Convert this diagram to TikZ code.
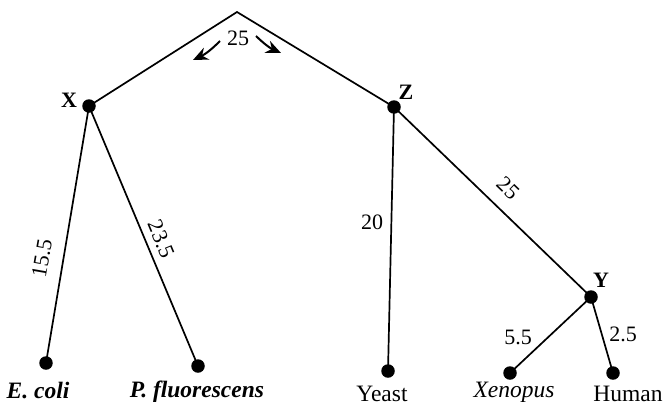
\documentclass[tikz,border=0pt]{standalone}
\usepackage{fontspec}
\setmainfont{Liberation Serif}
\usetikzlibrary{arrows.meta}
\tikzset{
  dot/.style={circle, fill=black, inner sep=0pt, minimum size=13.5pt},
  branch/.style={line width=1.7pt, black},
  nodename/.style={font=\fontsize{22}{24}\selectfont\bfseries, inner sep=0pt},
  taxon/.style={font=\fontsize{23.5}{26}\selectfont, inner sep=0pt},
  blen/.style={font=\fontsize{22}{24}\selectfont, inner sep=0pt},
  dirarrow/.style={line width=2pt, -{Stealth[length=15pt,width=13pt,inset=5pt]}}
}
\begin{document}
\begin{tikzpicture}[x=1pt,y=-1pt]
\useasboundingbox (0,0) rectangle (666,407);
% internal and leaf points
\coordinate (root) at (237,12);
\node[dot] (X) at (89,106) {};
\node[dot] (Z) at (394,107) {};
\node[dot] (Y) at (591,297) {};
\node[dot] (ecoli) at (46,363) {};
\node[dot] (pfluo) at (198,366) {};
\node[dot] (yeast) at (388,371) {};
\node[dot] (xeno) at (510,373) {};
\node[dot] (human) at (613,373) {};
% branches
\draw[branch] (X.center) -- (root) -- (Z.center);
\draw[branch] (X.center) -- (ecoli.center);
\draw[branch] (X.center) -- (pfluo.center);
\draw[branch] (Z.center) -- (yeast.center);
\draw[branch] (Z.center) -- (Y.center);
\draw[branch] (Y.center) -- (xeno.center);
\draw[branch] (Y.center) -- (human.center);
% node names
\node[nodename] (lX) at (69,100) {X};
\node[nodename] (lZ) at (406,92) {Z};
\node[nodename] (lY) at (601,280) {Y};
% taxa
\node[taxon] (tE) at (38,391) {\textbf{\textit{E. coli}}};
\node[taxon] (tP) at (197,392) {\textbf{\textit{P. fluorescens}}};
\node[taxon] (tY) at (382,394) {Yeast};
\node[taxon] (tX) at (514,392) {\textit{Xenopus}};
\node[taxon] (tH) at (628,394) {Human};
% branch lengths
\node[blen] (l25top) at (238,38) {25};
\coordinate (la1) at (220,41);
\coordinate (la2) at (193,60);
\coordinate (ra1) at (256,36);
\coordinate (ra2) at (281,53);
\draw[dirarrow] (la1) to[bend left=10] (la2);
\draw[dirarrow] (ra1) to[bend right=10] (ra2);
\node[blen, rotate=80] (l155) at (42,258) {15.5};
\node[blen, rotate=-67.4, fill=white, inner sep=1pt] (l235) at (161,239) {23.5};
\node[blen] (l20) at (372,222) {20};
\node[blen, rotate=-44] (l25) at (508,188) {25};
\node[blen] (l55) at (518,337) {5.5};
\node[blen] (l25b) at (623,334) {2.5};
\end{tikzpicture}
\end{document}
